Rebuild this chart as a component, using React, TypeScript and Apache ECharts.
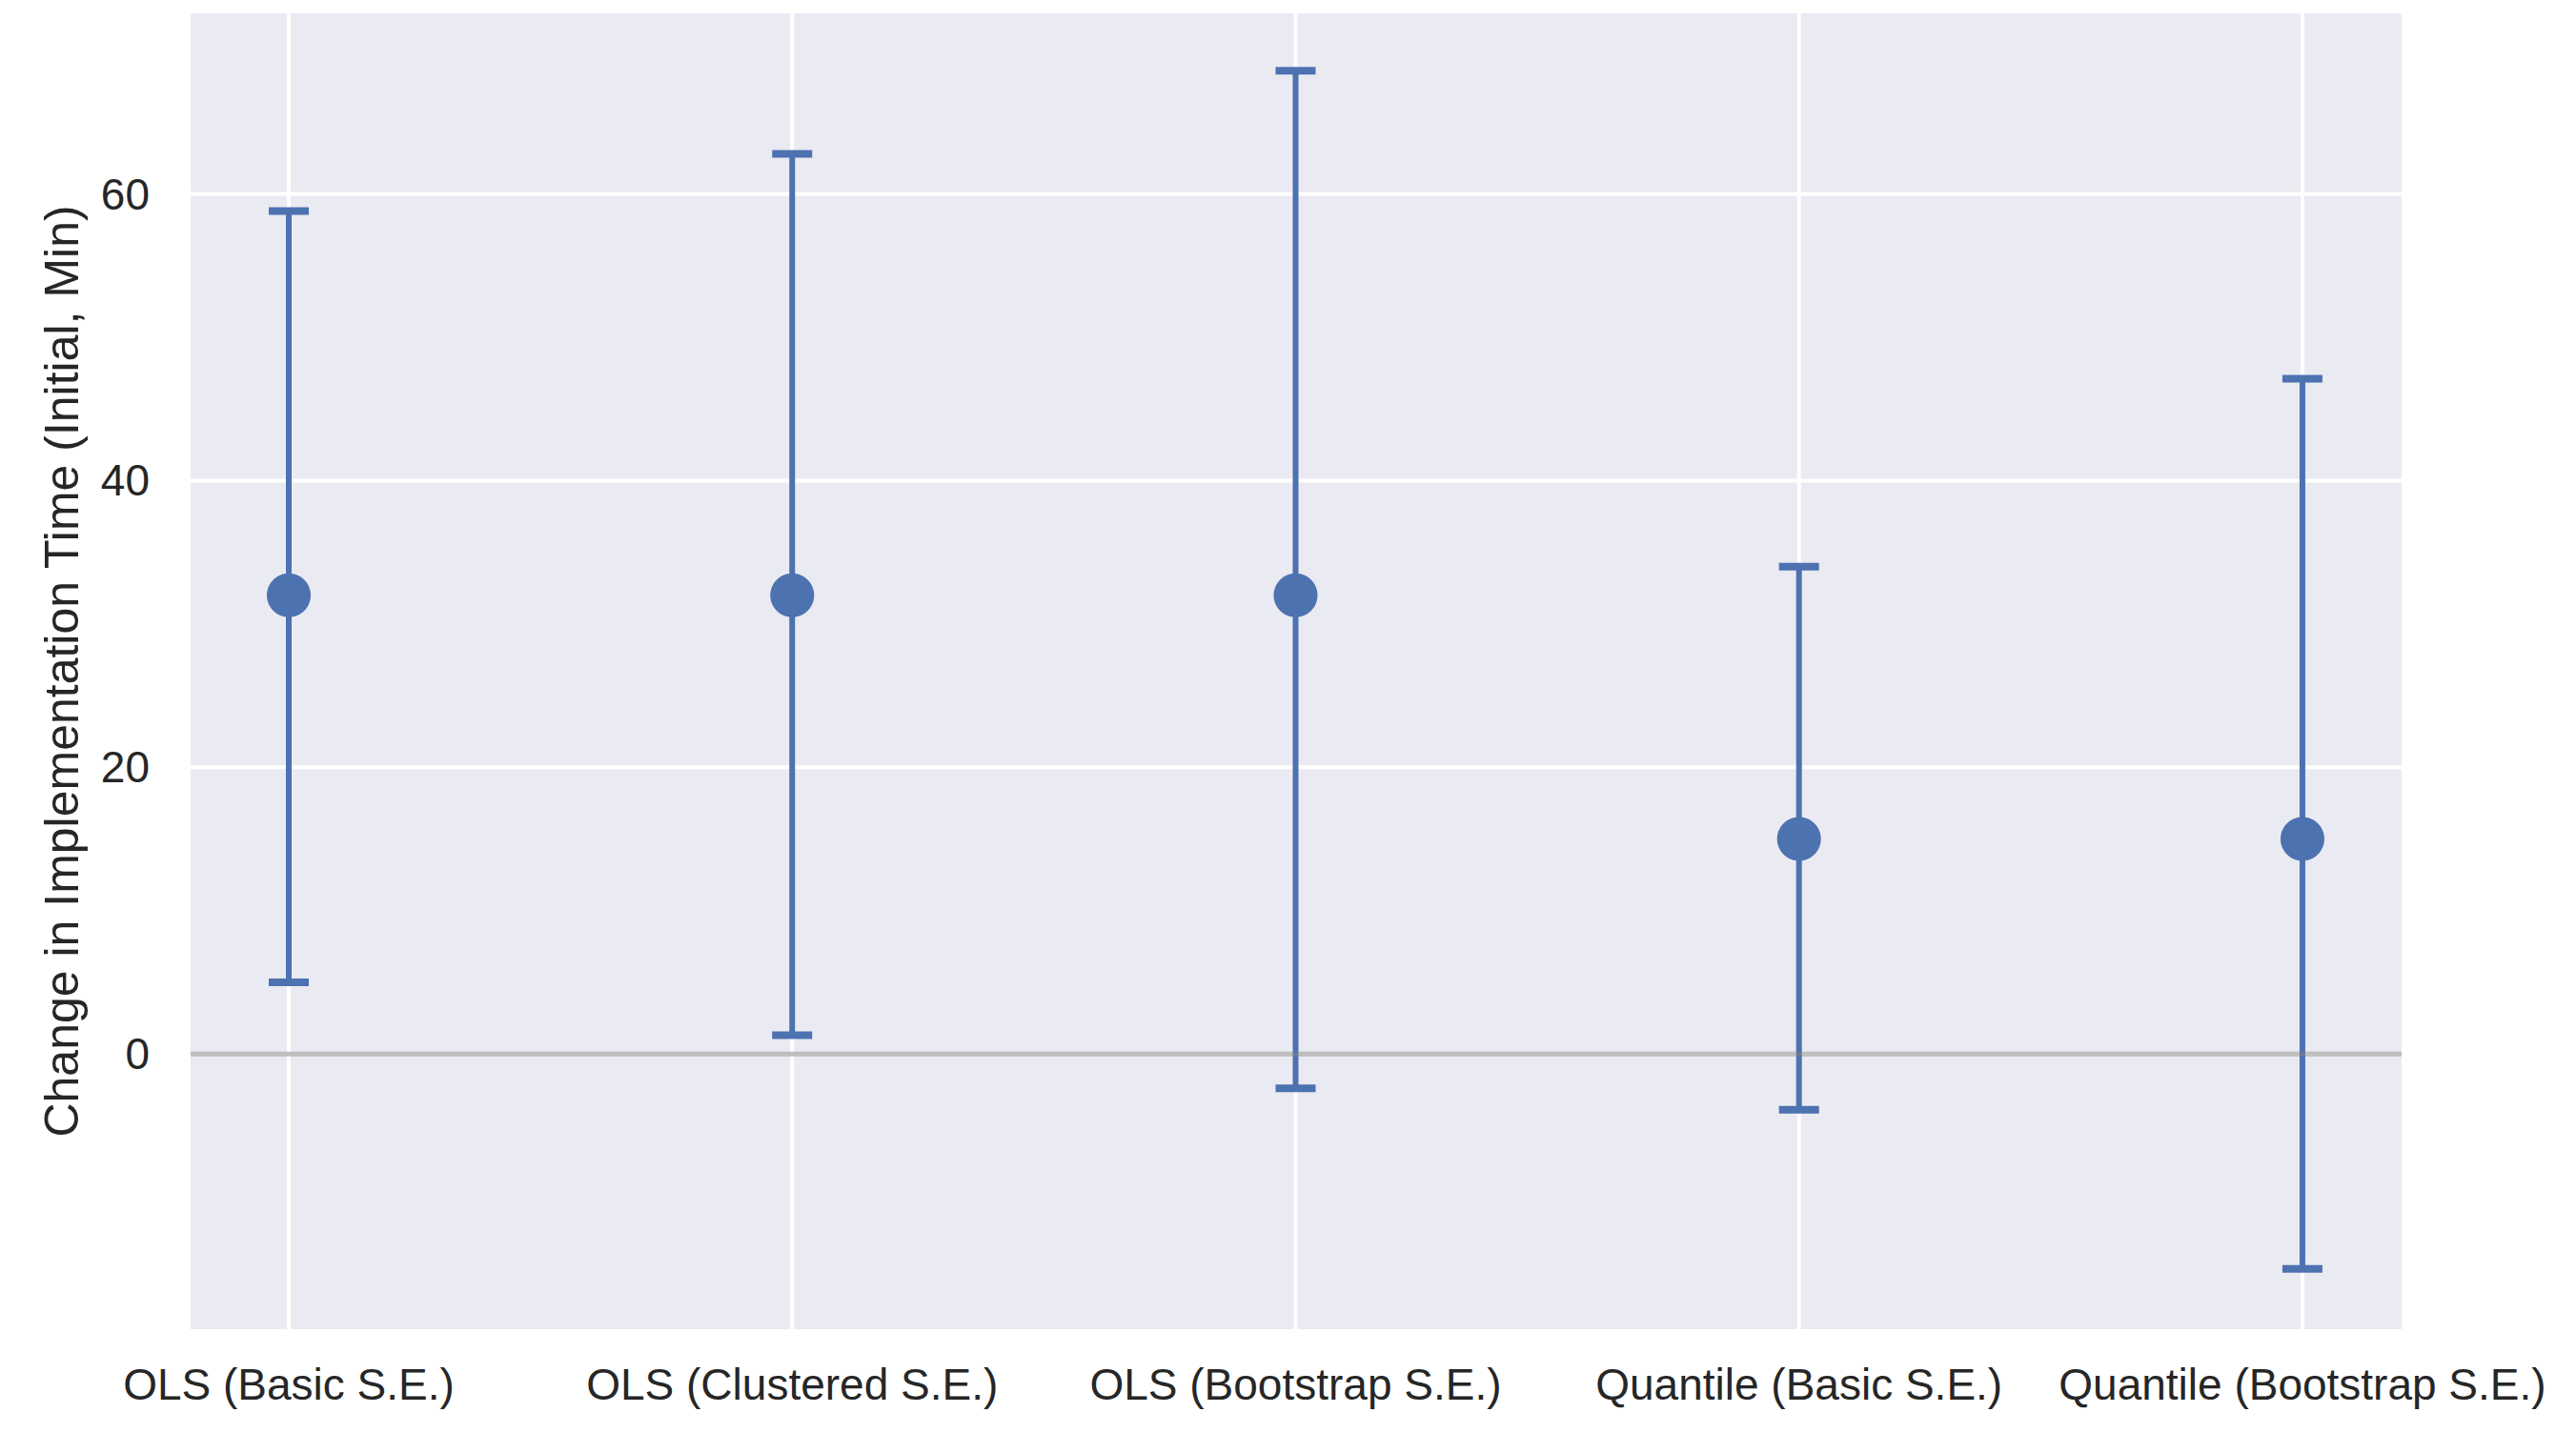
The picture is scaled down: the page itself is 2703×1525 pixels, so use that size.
import React, { useEffect, useRef } from "react";
import * as echarts from "echarts";

const categories = [
  "OLS (Basic S.E.)",
  "OLS (Clustered S.E.)",
  "OLS (Bootstrap S.E.)",
  "Quantile (Basic S.E.)",
  "Quantile (Bootstrap S.E.)",
];
const estimates = [32, 32, 32, 15, 15];
const lowerBounds = [5.0, 1.3, -2.4, -3.9, -15.0];
const upperBounds = [58.8, 62.8, 68.6, 34.0, 47.1];
const yTicks = [0, 20, 40, 60];
const referenceLine = [0];

const yMin = -19.2;
const yMax = 72.6;
const xMin = -0.195;
const xMax = 4.197;

const FONT = "'Liberation Sans', Arial, sans-serif";
const BLUE = "#4C72B0";
const TEXT = "#262626";

export default function App() {
  const ref = useRef<HTMLDivElement>(null);

  useEffect(() => {
    document.body.style.margin = "0";
    const chart = echarts.init(ref.current!, null, { renderer: "svg" });
    const xIdx = categories.map((_, i) => i);

    chart.setOption({
      animation: false,
      backgroundColor: "#ffffff",
      grid: {
        left: 200,
        right: 183,
        top: 14,
        bottom: 130,
        show: true,
        backgroundColor: "#EAEAF2",
        borderWidth: 0,
      },
      xAxis: {
        type: "value",
        min: xMin,
        max: xMax,
        axisLine: { show: false },
        axisTick: { show: false },
        splitLine: { show: false },
        axisLabel: {
          customValues: xIdx,
          formatter: (v: number) =>
            Math.abs(v - Math.round(v)) < 1e-6 ? categories[Math.round(v)] ?? "" : "",
          fontSize: 46,
          fontFamily: FONT,
          color: TEXT,
          margin: 35,
        },
      },
      yAxis: {
        type: "value",
        min: yMin,
        max: yMax,
        axisLine: { show: false },
        axisTick: { show: false },
        splitLine: { show: false },
        axisLabel: {
          customValues: yTicks,
          fontSize: 46,
          fontFamily: FONT,
          color: TEXT,
          margin: 43,
        },
        name: "Change in Implementation Time (Initial, Min)",
        nameLocation: "middle",
        nameRotate: 90,
        nameGap: 110,
        nameTextStyle: { fontSize: 50, fontFamily: FONT, color: TEXT },
      },
      series: [
        {
          type: "custom",
          name: "hgrid",
          silent: true,
          z: 1,
          data: yTicks.map((v) => [0, v]),
          encode: { x: 0, y: 1 },
          renderItem: (params: any, api: any) => {
            const cs = params.coordSys;
            const y = api.coord([0, api.value(1)])[1];
            return {
              type: "line",
              shape: { x1: cs.x, y1: y, x2: cs.x + cs.width, y2: y },
              style: { stroke: "#ffffff", lineWidth: 4 },
            };
          },
        },
        {
          type: "custom",
          name: "vgrid",
          silent: true,
          z: 1,
          data: xIdx.map((i) => [i, 0]),
          encode: { x: 0, y: 1 },
          renderItem: (params: any, api: any) => {
            const cs = params.coordSys;
            const x = api.coord([api.value(0), 0])[0];
            return {
              type: "line",
              shape: { x1: x, y1: cs.y, x2: x, y2: cs.y + cs.height },
              style: { stroke: "#ffffff", lineWidth: 4 },
            };
          },
        },
        {
          type: "custom",
          name: "errorbars",
          z: 10,
          data: xIdx.map((i) => [i, lowerBounds[i], upperBounds[i]]),
          encode: { x: 0, y: [1, 2] },
          renderItem: (params: any, api: any) => {
            const x = api.value(0);
            const pLo = api.coord([x, api.value(1)]);
            const pHi = api.coord([x, api.value(2)]);
            const cap = 21;
            const style = { stroke: BLUE, lineWidth: 6, lineCap: "butt" };
            const capStyle = { stroke: BLUE, lineWidth: 8, lineCap: "butt" };
            return {
              type: "group",
              children: [
                {
                  type: "line",
                  shape: { x1: pLo[0], y1: pLo[1], x2: pHi[0], y2: pHi[1] },
                  style,
                },
                {
                  type: "line",
                  shape: { x1: pLo[0] - cap, y1: pLo[1], x2: pLo[0] + cap, y2: pLo[1] },
                  style: capStyle,
                },
                {
                  type: "line",
                  shape: { x1: pHi[0] - cap, y1: pHi[1], x2: pHi[0] + cap, y2: pHi[1] },
                  style: capStyle,
                },
              ],
            };
          },
        },
        {
          type: "scatter",
          name: "estimates",
          z: 11,
          symbol: "circle",
          symbolSize: 46,
          itemStyle: { color: BLUE, opacity: 1 },
          data: xIdx.map((i) => [i, estimates[i]]),
        },
        {
          type: "custom",
          name: "zero",
          silent: true,
          z: 12,
          data: referenceLine.map((v) => [0, v]),
          encode: { x: 0, y: 1 },
          renderItem: (params: any, api: any) => {
            const cs = params.coordSys;
            const y = api.coord([0, api.value(1)])[1];
            return {
              type: "line",
              shape: { x1: cs.x, y1: y, x2: cs.x + cs.width, y2: y },
              style: { stroke: "rgba(128,128,128,0.5)", lineWidth: 5 },
            };
          },
        },
      ],
    });

    return () => chart.dispose();
  }, []);

  return (
    <div
      ref={ref}
      style={{ position: "absolute", left: 0, top: 0, width: 2703, height: 1525 }}
    />
  );
}
